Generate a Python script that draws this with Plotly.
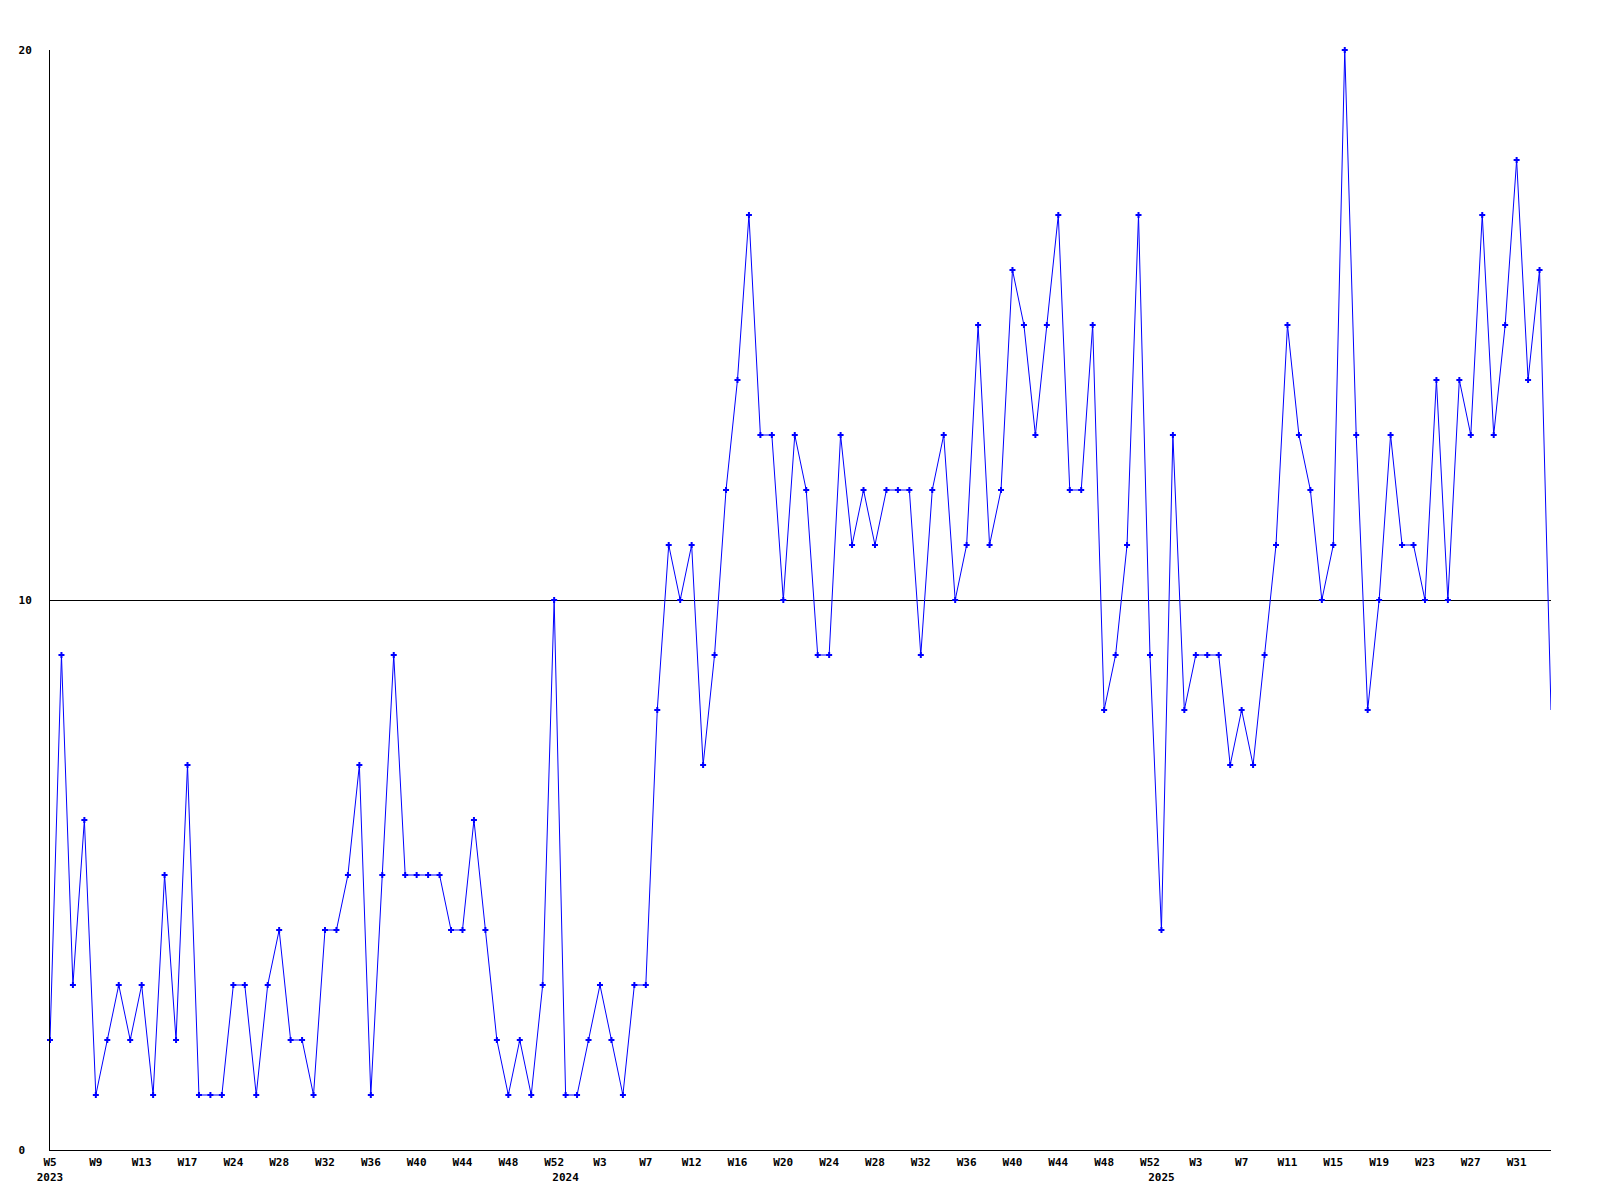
import plotly.graph_objects as go

# Weekly counts, one per point, left to right
values = [2, 9, 3, 6, 1, 2, 3, 2, 3, 1, 5, 2, 7, 1, 1, 1, 3, 3, 1, 3, 4, 2, 2, 1,
          4, 4, 5, 7, 1, 5, 9, 5, 5, 5, 5, 4, 4, 6, 4, 2, 1, 2, 1, 3, 10, 1, 1, 2, 3, 2, 1, 3, 3, 8,
          11, 10, 11, 7, 9, 12, 14, 17, 13, 13, 10, 13, 12, 9, 9, 13, 11, 12, 11, 12, 12, 12, 9, 12, 13, 10, 11, 15, 11, 12,
          16, 15, 13, 15, 17, 12, 12, 15, 8, 9, 11, 17, 9, 4, 13, 8, 9, 9, 9, 7, 8, 7, 9, 11, 15,
          13, 12, 10, 11, 20, 13, 8, 10, 13, 11, 11, 10, 14, 10, 14, 13, 17, 13, 15, 18, 14, 16, 8]

week_labels = ["W5", "W9", "W13", "W17", "W24", "W28", "W32", "W36", "W40", "W44", "W48", "W52",
               "W3", "W7", "W12", "W16", "W20", "W24", "W28", "W32", "W36", "W40", "W44", "W48", "W52",
               "W3", "W7", "W11", "W15", "W19", "W23", "W27", "W31"]
label_step = 4

year_labels = ["2023", "2024", "2025"]
year_points = [0, 45, 97]

y_ticks = [0, 10, 20]
y_tick_text = ["0\u00a0", "10", "20"]

x = list(range(len(values)))
week_ticks = list(range(0, len(values), label_step))[:len(week_labels)]

font_main = dict(family="DejaVu Sans Mono", size=11, color="black", weight="bold")

fig = go.Figure()
fig.add_trace(go.Scatter(
    x=x, y=values, mode="lines",
    line=dict(color="#0000ff", width=1),
    showlegend=False, hoverinfo="skip", cliponaxis=True,
))
fig.add_trace(go.Scatter(
    x=x[:-1], y=values[:-1], mode="markers",
    marker=dict(color="#0000ff", symbol="cross", size=5),
    showlegend=False, cliponaxis=False,
))
fig.add_trace(go.Scatter(
    x=year_points, y=[None] * len(year_points), xaxis="x2", mode="markers",
    showlegend=False, hoverinfo="skip",
))

fig.update_layout(
    width=1600, height=1200,
    paper_bgcolor="white", plot_bgcolor="white",
    margin=dict(l=42, r=57, t=42, b=58),
    font=font_main,
    xaxis=dict(
        range=[0, len(values) - 1],
        tickvals=week_ticks, ticktext=week_labels,
        showgrid=False, zeroline=False,
        showline=True, linecolor="black", linewidth=1,
        ticks="", ticklabelstandoff=2,
        tickfont=font_main,
    ),
    xaxis2=dict(
        range=[0, len(values) - 1],
        overlaying="x", anchor="y", side="bottom",
        tickvals=year_points, ticktext=year_labels,
        showgrid=False, zeroline=False, showline=False,
        ticks="", ticklabelstandoff=19,
        tickfont=font_main,
    ),
    yaxis=dict(
        range=[0, 20],
        tickvals=y_ticks, ticktext=y_tick_text,
        showgrid=True, gridcolor="black", gridwidth=1,
        zeroline=False,
        showline=True, linecolor="black", linewidth=1,
        ticks="", ticklabelstandoff=15,
        tickfont=font_main,
    ),
)

fig.write_html("out.html")
